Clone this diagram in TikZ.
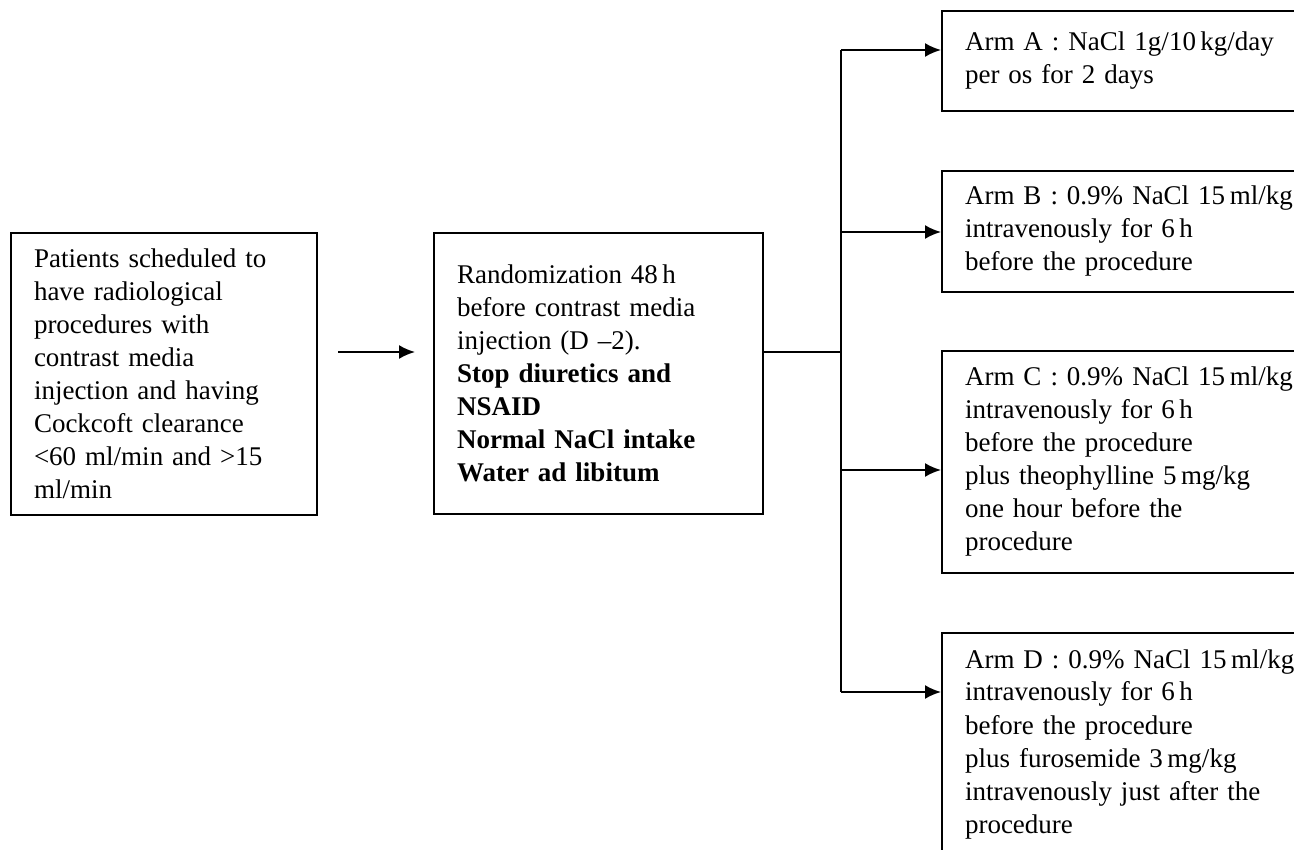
\documentclass[tikz,border=0pt]{standalone}
\usepackage{fontspec}
\setmainfont{Liberation Serif}
\usetikzlibrary{arrows.meta}
\begin{document}
\begin{tikzpicture}[x=0.5pt,y=-0.5pt,
  box/.style={draw, line width=1pt, anchor=north west, inner xsep=11.5pt, inner ysep=2pt,
    align=left, font=\fontsize{13.5}{16.5}\selectfont},
  conn/.style={line width=1pt},
  arr/.style={line width=1pt, -{Latex[length=8pt,width=7pt]}}]
\useasboundingbox (0,0) rectangle (1294,850);
\clip (0,0) rectangle (1294,850);

\node[box, text width=130pt, minimum height=141pt] (p) at (10,232)
  {Patients scheduled to\\have radiological\\procedures with\\contrast media\\injection and having\\Cockcoft clearance\\<60 ml/min and >15\\ml/min};

\node[box, text width=141.5pt, minimum height=140.5pt] (r) at (433,232)
  {Randomization 48\,h\\before contrast media\\injection (D --2).\\\textbf{Stop diuretics and}\\\textbf{NSAID}\\\textbf{Normal NaCl intake}\\\textbf{Water ad libitum}};

\node[box, text width=175pt, minimum height=50pt] (a) at (941,10)
  {Arm A : NaCl 1g/10\,kg/day\\per os for 2 days};
\node[box, text width=175pt, minimum height=60.5pt] (b) at (941,170)
  {Arm B : 0.9\% NaCl 15\,ml/kg\\intravenously for 6\,h\\before the procedure};
\node[box, text width=175pt, minimum height=111pt] (c) at (941,350)
  {Arm C : 0.9\% NaCl 15\,ml/kg\\intravenously for 6\,h\\before the procedure\\plus theophylline 5\,mg/kg\\one hour before the\\procedure};
\node[box, text width=175pt, minimum height=111pt] (d) at (941,632)
  {Arm D : 0.9\% NaCl 15\,ml/kg\\intravenously for 6\,h\\before the procedure\\plus furosemide 3\,mg/kg\\intravenously just after the\\procedure};

\coordinate (m) at (0,352);
\coordinate (j) at (841,352);
\coordinate (ya) at (0,50);
\coordinate (yb) at (0,232);
\coordinate (yc) at (0,470);
\coordinate (yd) at (0,692);

\draw[arr, shorten <=10pt, shorten >=9pt] (p.east |- m) -- (r.west |- m);
\draw[conn] (r.east |- m) -- (j);
\draw[conn] (j |- ya) -- (j |- yd);
\draw[arr] (j |- ya) -- (a.west |- ya);
\draw[arr] (j |- yb) -- (b.west |- yb);
\draw[arr] (j |- yc) -- (c.west |- yc);
\draw[arr] (j |- yd) -- (d.west |- yd);
\end{tikzpicture}
\end{document}
